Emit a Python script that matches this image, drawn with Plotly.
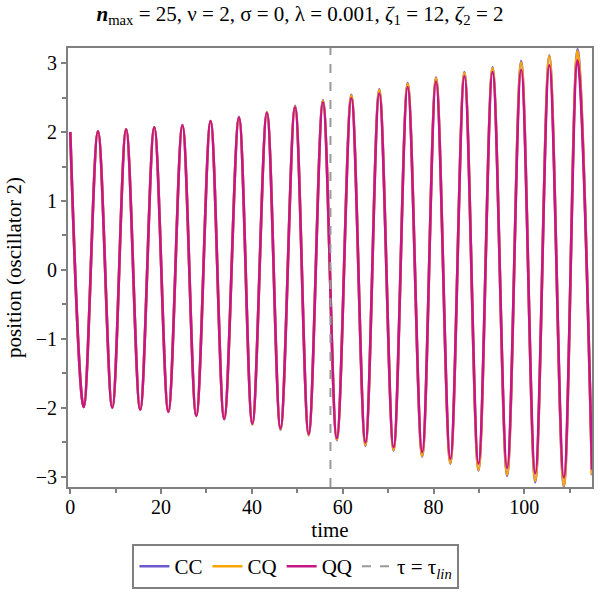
import plotly.graph_objects as go

# extrema of the oscillator-2 position
t_peaks = [0, 6.1, 12.3, 18.5, 24.7, 30.9, 37.15, 43.3, 49.5, 55.65, 61.9,
           68.05, 74.3, 80.55, 86.8, 93.0, 99.3, 105.5, 111.7]
t_troughs = [2.95, 9.25, 15.4, 21.6, 27.75, 33.9, 40.1, 46.3, 52.5, 58.7,
             65.0, 71.2, 77.5, 83.7, 89.9, 96.2, 102.4, 108.7]
t_end = 114.9

qq_peaks = [2.00, 2.01, 2.04, 2.07, 2.10, 2.16, 2.21, 2.28, 2.36, 2.43, 2.49,
            2.56, 2.65, 2.73, 2.81, 2.87, 2.90, 2.97, 3.04]
qq_troughs = [-1.99, -2.00, -2.03, -2.06, -2.12, -2.16, -2.23, -2.30, -2.38,
              -2.44, -2.50, -2.57, -2.64, -2.74, -2.81, -2.87, -2.95, -3.01]
qq_end = -2.90

cq_peaks = [2.00, 2.01, 2.04, 2.07, 2.10, 2.16, 2.21, 2.29, 2.37, 2.45, 2.53,
            2.61, 2.70, 2.78, 2.86, 2.93, 3.01, 3.10, 3.18]
cq_troughs = [-1.99, -2.00, -2.03, -2.06, -2.12, -2.16, -2.24, -2.31, -2.39,
              -2.46, -2.54, -2.61, -2.70, -2.80, -2.90, -2.97, -3.06, -3.13]
cq_end = -2.97

cc_peaks = [2.00, 2.01, 2.04, 2.07, 2.10, 2.16, 2.22, 2.29, 2.38, 2.46, 2.54,
            2.62, 2.71, 2.79, 2.87, 2.94, 3.03, 3.11, 3.20]
cc_troughs = [-1.99, -2.00, -2.03, -2.06, -2.12, -2.17, -2.24, -2.32, -2.40,
              -2.47, -2.55, -2.62, -2.71, -2.81, -2.91, -2.99, -3.08, -3.15]
cc_end = -2.98

tau_lin = 57.3
x_range = [-0.5, 114.9]
y_range = [-3.15, 3.22]


def series(peaks, troughs, end):
    # peaks and troughs alternate, starting with a peak at t=0
    t, y = [], []
    for i in range(len(t_peaks)):
        t.append(t_peaks[i]); y.append(peaks[i])
        if i < len(t_troughs):
            t.append(t_troughs[i]); y.append(troughs[i])
    t.append(t_end); y.append(end)
    return t, y


serif = "Liberation Serif, Times New Roman, serif"

fig = go.Figure()
for name, pk, tr, en, col in [
    ("CC", cc_peaks, cc_troughs, cc_end, "#6A5ACD"),
    ("CQ", cq_peaks, cq_troughs, cq_end, "#FFA500"),
    ("QQ", qq_peaks, qq_troughs, qq_end, "#C71585"),
]:
    tx, ty = series(pk, tr, en)
    fig.add_trace(go.Scatter(
        x=tx, y=ty, mode='lines', name=name,
        line=dict(color=col, width=2.6, shape='spline', smoothing=1.0)
    ))

fig.add_trace(go.Scatter(
    x=[tau_lin, tau_lin], y=y_range, mode='lines',
    name='τ = τ<sub><i>lin</i></sub>',
    line=dict(color='#999999', width=2, dash='dash')
))

axis_style = dict(
    showgrid=False, zeroline=False, showline=True, linecolor='#808080',
    linewidth=2, mirror=True, ticks='outside', ticklen=5, tickwidth=1.5,
    tickcolor='#808080', tickfont=dict(family=serif, size=20, color='black'),
    automargin=False,
)

fig.update_xaxes(
    range=x_range, dtick=20, tick0=0, ticklabelstandoff=-4,
    minor=dict(dtick=10, ticks='outside', ticklen=4, tickcolor='#808080'),
    title=dict(text='time', font=dict(family=serif, size=21, color='black'),
               standoff=0),
    **axis_style
)
fig.update_yaxes(
    range=y_range, dtick=1, tick0=0,
    minor=dict(dtick=0.5, ticks='outside', ticklen=4, tickcolor='#808080'),
    title=dict(text='position (oscillator 2)',
               font=dict(family=serif, size=21, color='black'), standoff=8),
    **axis_style
)

fig.update_layout(
    width=600, height=600,
    margin=dict(l=68, r=8, t=48, b=113),
    paper_bgcolor='white', plot_bgcolor='white',
    title=dict(
        text='<b><i>n</i></b><sub>max</sub> = 25, ν = 2, σ = 0, λ = 0.001, '
             '<i>ζ</i><sub>1</sub> = 12, <i>ζ</i><sub>2</sub> = 2',
        x=0.5, xanchor='center', y=0.978, yanchor='middle',
        font=dict(family=serif, size=21, color='black')
    ),
    legend=dict(
        orientation='h', x=0.435, xanchor='center', y=-0.13, yanchor='top',
        bordercolor='#808080', borderwidth=2,
        font=dict(family=serif, size=21, color='black'),
        itemwidth=30
    ),
    showlegend=True
)

fig.write_html("out.html", config={'displayModeBar': False},
               post_script="document.body.style.margin = '0';")
